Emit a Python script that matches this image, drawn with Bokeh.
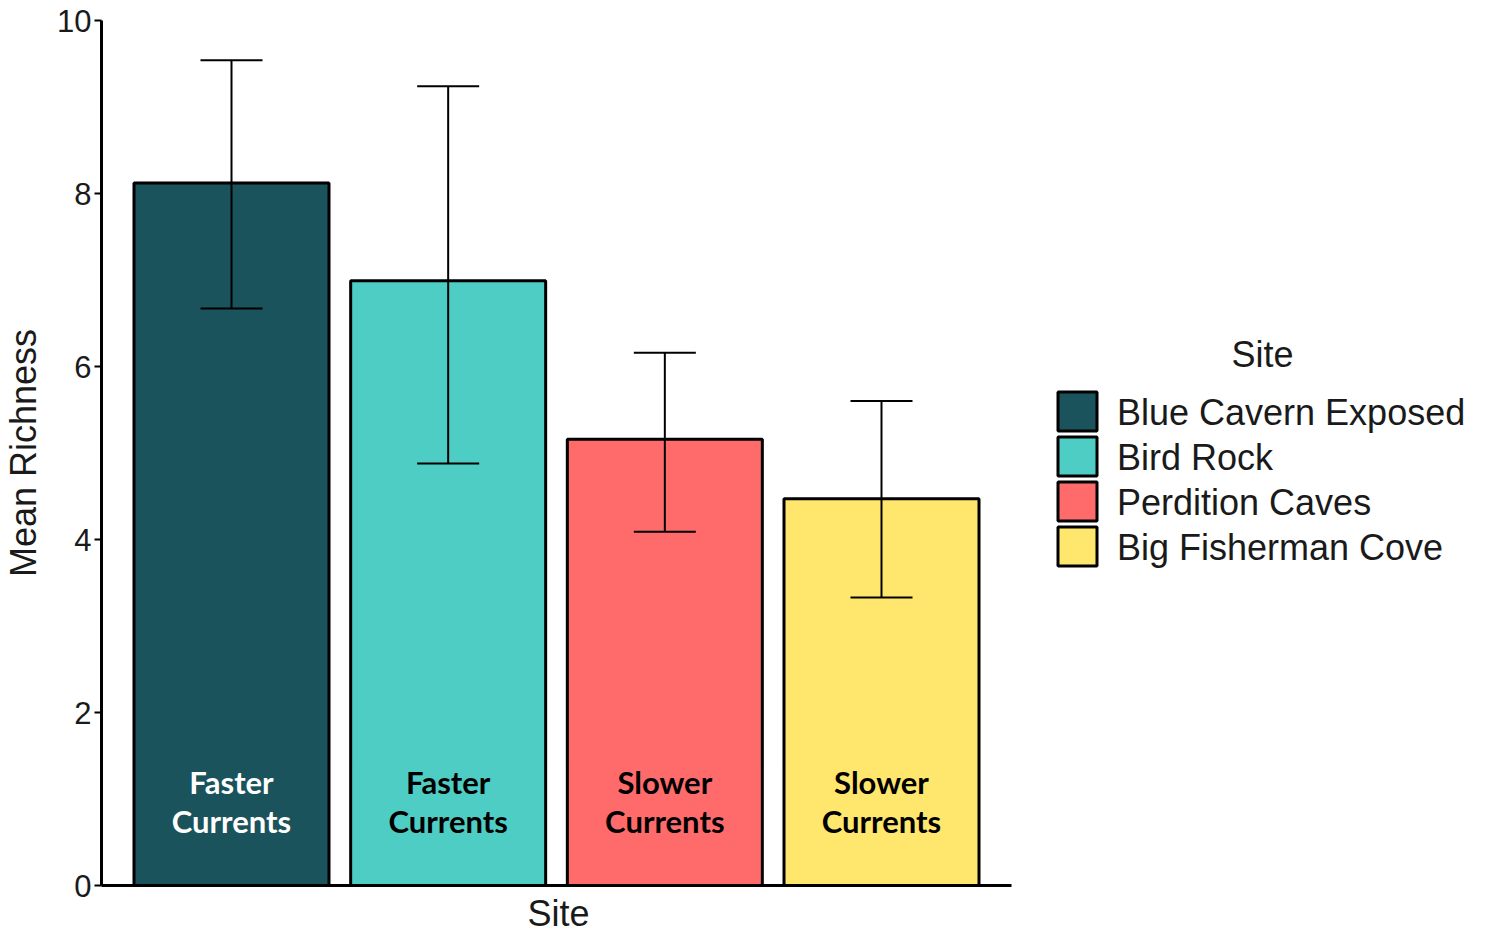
from bokeh.plotting import figure
from bokeh.models import (ColumnDataSource, Range1d, Whisker, TeeHead, Legend, LegendItem,
                          FixedTicker, Label, Title)
from bokeh.core.properties import value
from bokeh.embed import file_html
from bokeh.resources import INLINE

sites = ["Blue Cavern Exposed", "Bird Rock", "Perdition Caves", "Big Fisherman Cove"]
mean_richness = [8.12, 6.99, 5.16, 4.47]
err_upper = [9.54, 9.24, 6.16, 5.60]
err_lower = [6.67, 4.88, 4.09, 3.33]
current_top = ["Faster", "Faster", "Slower", "Slower"]
current_bottom = ["Currents", "Currents", "Currents", "Currents"]
colors = ["#1A535C", "#4ECDC4", "#FF6B6B", "#FFE66D"]
text_colors = ["white", "black", "black", "black"]
legend_title = "Site"
x_title = "Site"
y_title = "Mean Richness"

xpos = [i + 1 for i in range(len(sites))]
src = ColumnDataSource(dict(x=xpos, site=sites, mean=mean_richness, upper=err_upper,
                            lower=err_lower, top=current_top, bottom=current_bottom,
                            color=colors, tcolor=text_colors))

FONT = "Liberation Sans"
TXT = "#1a1a1a"

# layout constants (pixels)
FRAME_LEFT, FRAME_TOP, FRAME_H = 100, 20, 865
FRAME_BOTTOM = FRAME_TOP + FRAME_H
PX_PER_X = 910 / 4.2          # bar area: 0.4 .. 4.6 over 910 px
PX_PER_Y = FRAME_H / 10
FRAME_W = 1385
x_end = 0.4 + FRAME_W / PX_PER_X


def sx_to_x(sx):
    return 0.4 + (sx - FRAME_LEFT) / PX_PER_X


def sy_to_y(sy):
    return (FRAME_BOTTOM - sy) / PX_PER_Y


p = figure(frame_width=FRAME_W, frame_height=FRAME_H, output_backend="svg", toolbar_location=None,
           x_range=Range1d(0.4, x_end), y_range=Range1d(0, 10),
           min_border_left=FRAME_LEFT, min_border_top=FRAME_TOP, min_border_bottom=47,
           min_border_right=0)
p.background_fill_color = "white"
p.border_fill_color = "white"
p.outline_line_color = None
p.grid.visible = False

r = p.vbar(x="x", top="mean", width=0.9, source=src, fill_color="color",
           line_color="black", line_width=3)

w = Whisker(base="x", upper="upper", lower="lower", source=src, line_color="black", line_width=2,
            upper_head=TeeHead(size=62, line_width=2, line_color="black"),
            lower_head=TeeHead(size=62, line_width=2, line_color="black"), level="overlay")
p.add_layout(w)

p.text(x="x", y=1.2, text="top", source=src, text_color="tcolor", text_align="center",
       text_baseline="middle", text_font=value("Lato"), text_font_style="bold",
       text_font_size="31px")
p.text(x="x", y=0.74, text="bottom", source=src, text_color="tcolor", text_align="center",
       text_baseline="middle", text_font=value("Lato"), text_font_style="bold",
       text_font_size="31px")

# y axis
p.yaxis.ticker = FixedTicker(ticks=[0, 2, 4, 6, 8, 10])
p.yaxis.axis_label = y_title
p.yaxis.axis_label_text_font = FONT
p.yaxis.axis_label_text_font_style = "normal"
p.yaxis.axis_label_text_font_size = "36px"
p.yaxis.axis_label_text_color = TXT
p.yaxis.axis_label_standoff = 10
p.yaxis.major_label_text_font = FONT
p.yaxis.major_label_text_font_size = "31px"
p.yaxis.major_label_text_color = TXT
p.yaxis.major_label_standoff = 3
p.yaxis.major_tick_out = 7
p.yaxis.major_tick_in = 0
p.yaxis.major_tick_line_width = 2
p.yaxis.minor_tick_line_color = None
p.yaxis.axis_line_width = 3

# x axis (only under the bars)
p.xaxis.ticker = FixedTicker(ticks=[])
p.xaxis.bounds = (0.4, 4.6)
p.xaxis.major_tick_line_color = None
p.xaxis.minor_tick_line_color = None
p.xaxis.axis_line_width = 3

xt = Title(text=x_title, align="left", offset=426, text_font=FONT, text_font_size="36px",
           text_font_style="normal", text_color=TXT, standoff=10)
p.add_layout(xt, "below")

# legend: labels from Bokeh's Legend, colour keys drawn as squares next to them
LEG_LEFT, LEG_FIRST_CY, LEG_PITCH, KEY = 1045, 411, 45, 39
dummy = p.rect(x=[], y=[], width=0, height=0, fill_alpha=0, line_alpha=0)
leg = Legend(items=[LegendItem(label=s, renderers=[dummy]) for s in sites])
leg.label_text_font = FONT
leg.label_text_font_size = "36px"
leg.label_text_color = TXT
leg.label_standoff = 29
leg.label_height = LEG_PITCH
leg.glyph_width = 42
leg.glyph_height = LEG_PITCH
leg.spacing = 0
leg.padding = 10
leg.margin = 0
leg.border_line_color = None
leg.background_fill_alpha = 0
leg_bottom = LEG_FIRST_CY - LEG_PITCH / 2 + LEG_PITCH * len(sites) + 10
leg.location = (LEG_LEFT - FRAME_LEFT, FRAME_BOTTOM - leg_bottom + 8)
p.add_layout(leg)

key_src = ColumnDataSource(dict(
    x=[sx_to_x(LEG_LEFT + 10 + 21)] * len(sites),
    y=[sy_to_y(LEG_FIRST_CY + LEG_PITCH * i) for i in range(len(sites))],
    color=colors))
p.rect(x="x", y="y", width=KEY, height=KEY, width_units="screen", height_units="screen",
       source=key_src, fill_color="color", line_color="black", line_width=3)

title = Label(x=sx_to_x(1261), y=sy_to_y(354), text=legend_title,
              text_font=FONT, text_font_size="36px", text_color=TXT,
              text_align="center", text_baseline="middle")
p.add_layout(title)

open("out.html", "w").write(file_html(p, INLINE))
